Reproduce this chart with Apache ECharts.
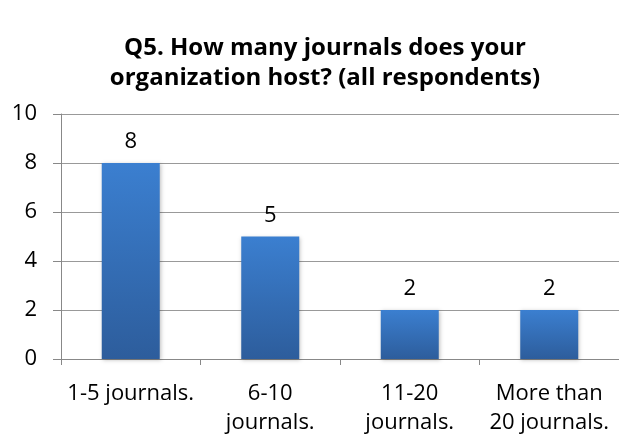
<!DOCTYPE html>
<html><head><meta charset="utf-8">
<script src="https://cdn.jsdelivr.net/npm/echarts@6/dist/echarts.min.js"></script>
<style>html,body{margin:0;padding:0;background:#fff}#c{width:619px;height:438px}</style>
</head><body><div id="c"></div>
<script>
var categories = ['1-5 journals.', '6-10\njournals.', '11-20\njournals.', 'More than\n20 journals.'];
var values = [8, 5, 2, 2];
var titleText = 'Q5. How many journals does your\norganization host? (all respondents)';
var chart = echarts.init(document.getElementById('c'));
var font = 'Open Sans';
chart.setOption({
  animation: false,
  title: {
    text: titleText, left: 320, top: 28, textAlign: 'center',
    textStyle: {fontFamily: font, fontSize: 24, fontWeight: 'bold', color: '#000', lineHeight: 30}
  },
  grid: {left: 61, right: -5, top: 114, bottom: 79, containLabel: false},
  xAxis: {
    type: 'category', data: categories,
    axisLine: {lineStyle: {color: '#888', width: 1}},
    axisTick: {show: true, length: 6, lineStyle: {color: '#888'}},
    axisLabel: {fontFamily: font, fontSize: 22, color: '#000', margin: 20, lineHeight: 29, interval: 0}
  },
  yAxis: {
    type: 'value', min: 0, max: 10, interval: 2,
    axisLine: {show: true, lineStyle: {color: '#888'}},
    axisTick: {show: true, length: 8, lineStyle: {color: '#888'}},
    splitLine: {lineStyle: {color: '#999', width: 1}},
    axisLabel: {fontFamily: font, fontSize: 22, color: '#000', margin: 24}
  },
  series: [{
    type: 'bar', data: values, barWidth: 58,
    itemStyle: {
      color: new echarts.graphic.LinearGradient(0, 0, 0, 1, [
        {offset: 0, color: '#3b7fd0'}, {offset: 1, color: '#2d5d9c'}
      ]),
      shadowColor: 'rgba(0,0,0,0.25)', shadowBlur: 4, shadowOffsetX: 1, shadowOffsetY: 1
    },
    label: {show: true, position: 'top', distance: 10, fontFamily: font, fontSize: 22, color: '#000'}
  }]
});
</script></body></html>
